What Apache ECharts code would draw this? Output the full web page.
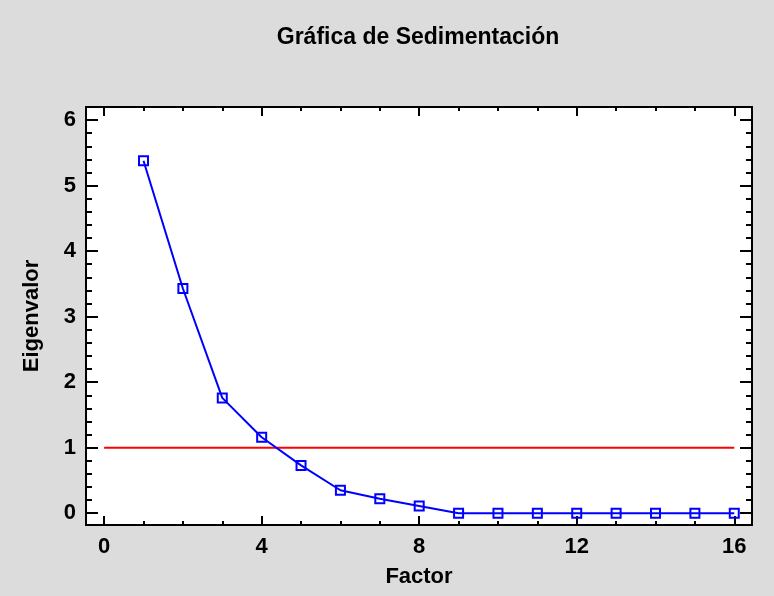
<!DOCTYPE html>
<html>
<head>
<meta charset="utf-8">
<script src="https://cdn.jsdelivr.net/npm/echarts@6/dist/echarts.min.js"></script>
<style>
html,body{margin:0;padding:0;background:#dcdcdc;}
#chart{width:774px;height:596px;}
</style>
</head>
<body>
<div id="chart"></div>
<script>
// Data
const factors = [1, 2, 3, 4, 5, 6, 7, 8, 9, 10, 11, 12, 13, 14, 15, 16];
const eigenvalues = [5.38, 3.43, 1.76, 1.16, 0.73, 0.35, 0.22, 0.11, 0, 0, 0, 0, 0, 0, 0, 0];
const refLineX = [0, 16];
const refLineY = [1, 1];
const xMajorTicks = [0, 4, 8, 12, 16];
const xMinorTicks = [1, 2, 3, 5, 6, 7, 9, 10, 11, 13, 14, 15];
const yMajorTicks = [0, 1, 2, 3, 4, 5, 6];
const yMinorTicks = [0.2,0.4,0.6,0.8,1.2,1.4,1.6,1.8,2.2,2.4,2.6,2.8,3.2,3.4,3.6,3.8,4.2,4.4,4.6,4.8,5.2,5.4,5.6,5.8];

const XMIN = -0.46, XMAX = 16.45;
const YMIN = -0.18, YMAX = 6.2;
const FONT = '"Liberation Sans", Arial, sans-serif';

const chart = echarts.init(document.getElementById('chart'), null, {renderer: 'canvas'});

function xAx(pos, ticks, len, labels, extra) {
  return Object.assign({
    type: 'value', position: pos, min: XMIN, max: XMAX,
    axisLine: {show: false, onZero: false},
    splitLine: {show: false},
    axisTick: {show: true, inside: true, length: len, customValues: ticks, lineStyle: {color: '#000', width: 2}},
    axisLabel: labels ? {show: true, customValues: ticks, color: '#000', fontFamily: FONT, fontWeight: 'bold', fontSize: 22, margin: 11} : {show: false}
  }, extra || {});
}
function yAx(pos, ticks, len, labels, extra) {
  return Object.assign({
    type: 'value', position: pos, min: YMIN, max: YMAX,
    axisLine: {show: false, onZero: false},
    splitLine: {show: false},
    axisTick: {show: true, inside: true, length: len, customValues: ticks, lineStyle: {color: '#000', width: 2}},
    axisLabel: labels ? {show: true, customValues: ticks, color: '#000', fontFamily: FONT, fontWeight: 'bold', fontSize: 22, margin: 10} : {show: false}
  }, extra || {});
}

const option = {
  backgroundColor: '#dcdcdc',
  animation: false,
  graphic: [{
    type: 'text', x: 418, y: 38,
    style: {
      text: 'Gráfica de Sedimentación',
      fill: '#000', font: 'bold 23px ' + FONT,
      align: 'center', verticalAlign: 'middle'
    }
  }],
  grid: {
    left: 86, right: 22, top: 107, bottom: 71,
    outerBoundsMode: 'none', containLabel: false,
    show: true, backgroundColor: '#fff', borderColor: '#000', borderWidth: 2
  },
  xAxis: [
    xAx('bottom', xMajorTicks, 9, true, {
      name: 'Factor', nameLocation: 'middle', nameGap: 41,
      nameTextStyle: {color: '#000', fontFamily: FONT, fontWeight: 'bold', fontSize: 22}
    }),
    xAx('bottom', xMinorTicks, 4, false),
    xAx('top', xMajorTicks, 9, false),
    xAx('top', xMinorTicks, 4, false)
  ],
  yAxis: [
    yAx('left', yMajorTicks, 12, true, {
      name: 'Eigenvalor', nameLocation: 'middle', nameGap: 43, nameRotate: 90,
      nameTextStyle: {color: '#000', fontFamily: FONT, fontWeight: 'bold', fontSize: 22}
    }),
    yAx('left', yMinorTicks, 6, false),
    yAx('right', yMajorTicks, 12, false),
    yAx('right', yMinorTicks, 6, false)
  ],
  series: [
    {
      type: 'line',
      xAxisIndex: 0, yAxisIndex: 0,
      data: refLineX.map((x, i) => [x, refLineY[i]]),
      symbol: 'none',
      lineStyle: {color: '#ff0000', width: 2},
      z: 2
    },
    {
      type: 'line',
      xAxisIndex: 0, yAxisIndex: 0,
      data: factors.map((f, i) => [f, eigenvalues[i]]),
      symbol: 'rect', symbolSize: 9,
      lineStyle: {color: '#0000ff', width: 2},
      itemStyle: {color: 'rgba(0,0,0,0)', borderColor: '#0000ff', borderWidth: 2},
      z: 3
    }
  ]
};
chart.setOption(option);
</script>
</body>
</html>
